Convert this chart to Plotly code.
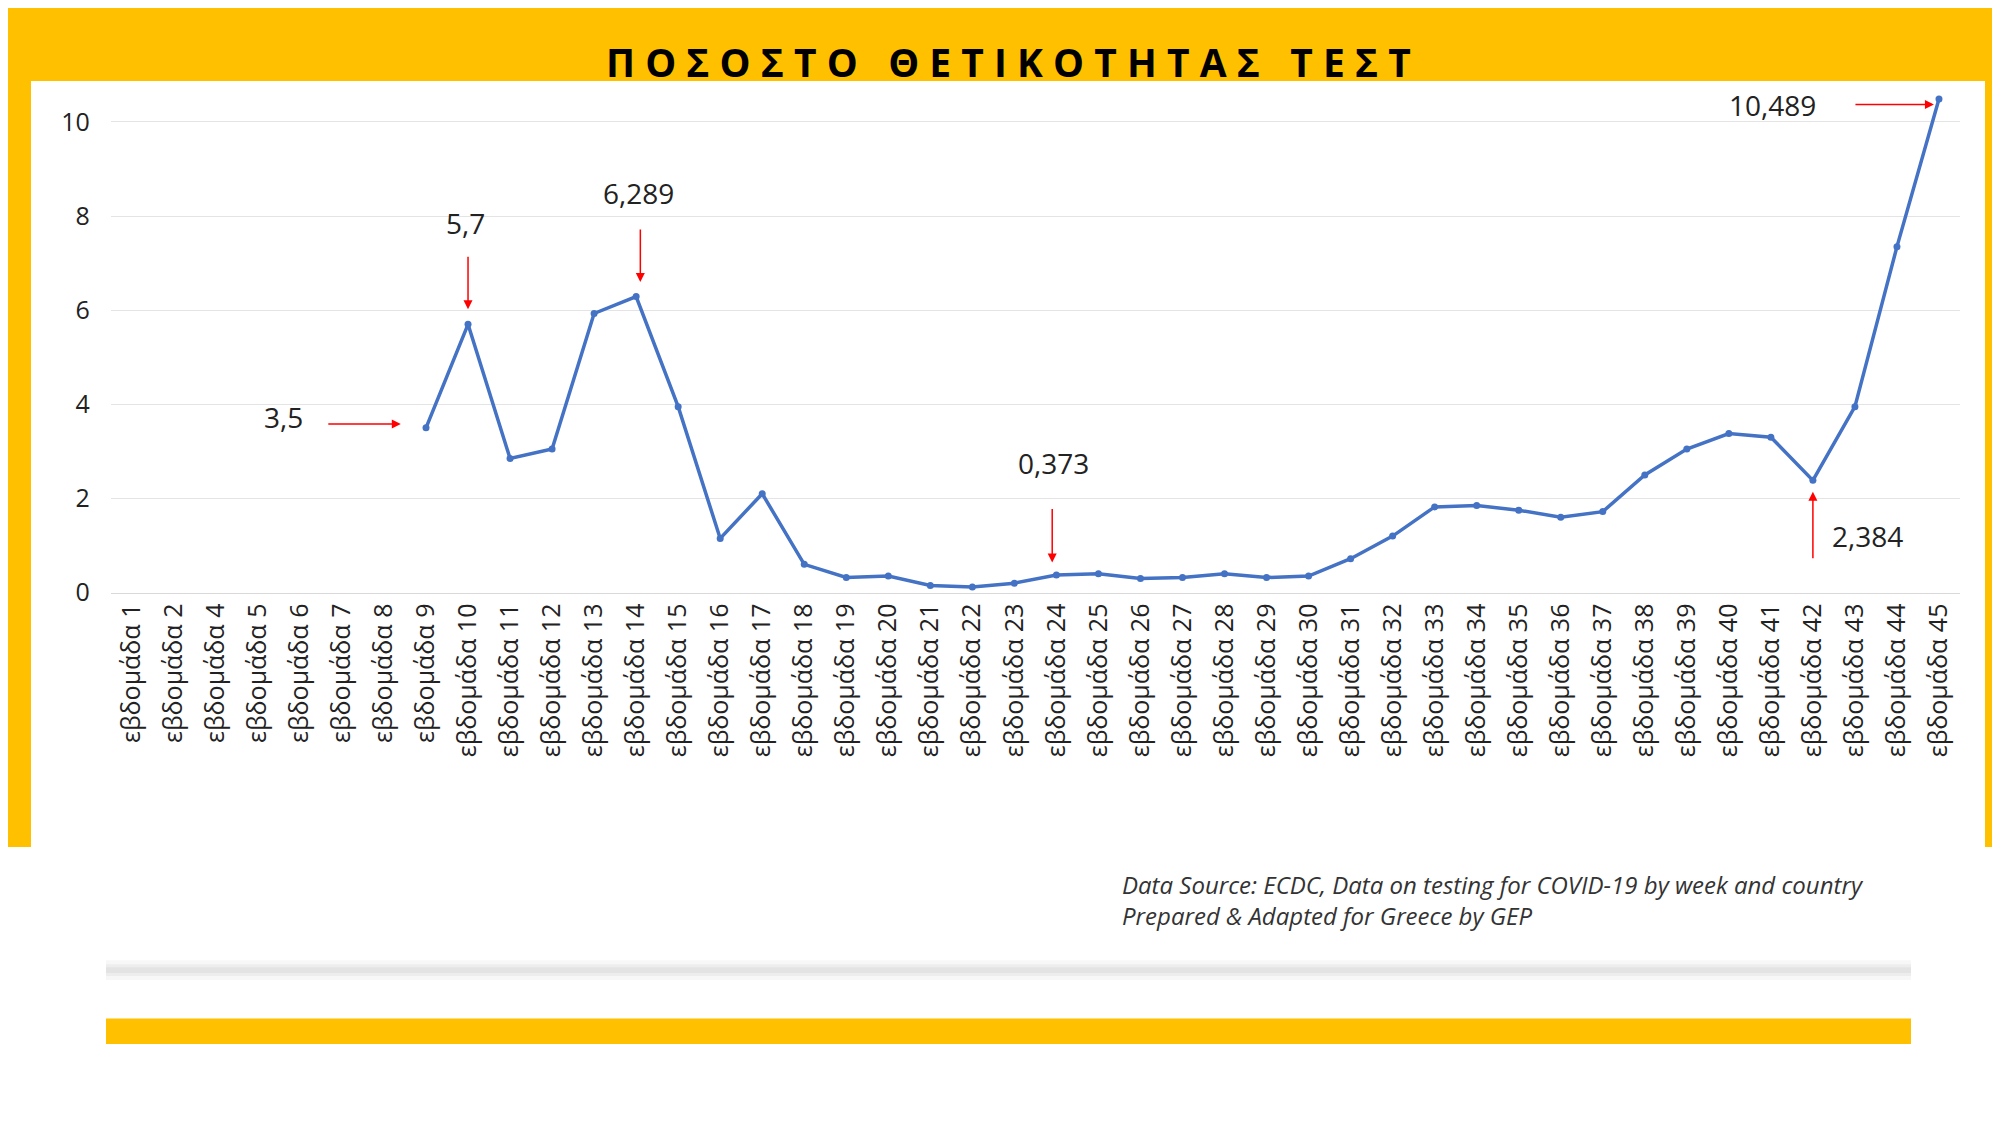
import plotly.graph_objects as go

weeks = [1, 2] + list(range(4, 46))
labels = [f"εβδομάδα {w}" for w in weeks]
values = [None]*7 + [3.5, 5.7, 2.85, 3.05, 5.93, 6.289, 3.95, 1.15, 2.1, 0.6, 0.32, 0.35, 0.15, 0.12,
          0.2, 0.373, 0.4, 0.3, 0.32, 0.4, 0.32, 0.35, 0.72, 1.2, 1.82, 1.85, 1.75, 1.6, 1.72,
          2.5, 3.05, 3.38, 3.3, 2.384, 3.95, 7.35, 10.489]
y_ticks = [0, 2, 4, 6, 8, 10]

W, H = 2000, 1125
YEL = "#FFC000"
fig = go.Figure(go.Scatter(x=labels, y=values, mode="lines+markers",
                           line=dict(color="#4472C4", width=3.5),
                           marker=dict(color="#4472C4", size=7), connectgaps=False))

def px(x0, y0, x1, y1, fill):
    return dict(type="rect", xref="paper", yref="paper", layer="below", line=dict(width=0),
                x0=x0/W, x1=x1/W, y0=1-y1/H, y1=1-y0/H, fillcolor=fill)

shapes = [
    px(0, 0, 2000, 851, YEL),
    px(23, 74, 1977, 851, "white"),
    px(98, 1025, 1903, 1051, YEL),
    px(98, 966, 1903, 986, "rgba(0,0,0,0.03)"),
    px(98, 970, 1903, 982, "rgba(0,0,0,0.04)"),
    px(98, 973, 1903, 979, "rgba(0,0,0,0.04)"),
]

red = "#FF0000"
tf = dict(family="Open Sans", size=28, color="#222")
ann = []
def label(t, xi, y):
    ann.append(dict(x=xi, y=y, xref="x", yref="y", text=t, showarrow=False, font=tf))
def arrow(xi, y, ax, ay):
    ann.append(dict(x=xi, y=y, xref="x", yref="y", text="", showarrow=True, arrowhead=2,
                    arrowsize=1.2, arrowwidth=1.5, arrowcolor=red, ax=ax, ay=ay, standoff=0))
label("3,5", 3.61, 3.72); arrow(6.4, 3.58, -74, 0)
label("5,7", 7.95, 7.86); arrow(8, 6.02, 0, -54)
label("6,289", 12.05, 8.5); arrow(12.1, 6.6, 0, -54)
label("0,373", 21.94, 2.75); arrow(21.9, 0.64, 0, -55)
label("2,384", 41.3, 1.2); arrow(40, 2.14, 0, 68)
label("10,489", 39.03, 10.37); arrow(42.88, 10.37, -80, 0)

title = "   ".join(" ".join(w) for w in "ΠΟΣΟΣΤΟ ΘΕΤΙΚΟΤΗΤΑΣ ΤΕΣΤ".split())
ann.append(dict(x=0.5, y=1-54/H, xref="paper", yref="paper", yanchor="middle", text=f"<b>{title}</b>",
                showarrow=False, font=dict(family="Open Sans", size=39, color="black")))
ann.append(dict(x=1112/W, y=1-905/H, xref="paper", yref="paper", xanchor="left", yanchor="middle",
                align="left",
                text="<i>Data Source: ECDC, Data on testing for COVID-19 by week and country<br>Prepared &amp; Adapted for Greece by GEP</i>",
                showarrow=False, font=dict(family="Open Sans", size=24, color="#333")))

fig.update_layout(width=W, height=H, margin=dict(l=0, r=0, t=0, b=0),
                  paper_bgcolor="white", plot_bgcolor="white", showlegend=False,
                  shapes=shapes, annotations=ann,
                  xaxis=dict(domain=[0.0514, 0.976], range=[-0.5, 43.5], tickangle=-90,
                             tickfont=dict(family="Open Sans", size=25, color="#222"),
                             showgrid=False, showline=True, linecolor="#d9d9d9", ticks=""),
                  yaxis=dict(domain=[0.4729, 0.9227], range=[0, 10.6], tickvals=y_ticks,
                             tickfont=dict(family="Open Sans", size=25, color="#222"),
                             gridcolor="#e4e4e4", zeroline=False, ticklabelstandoff=20))
fig.write_html("out.html")
